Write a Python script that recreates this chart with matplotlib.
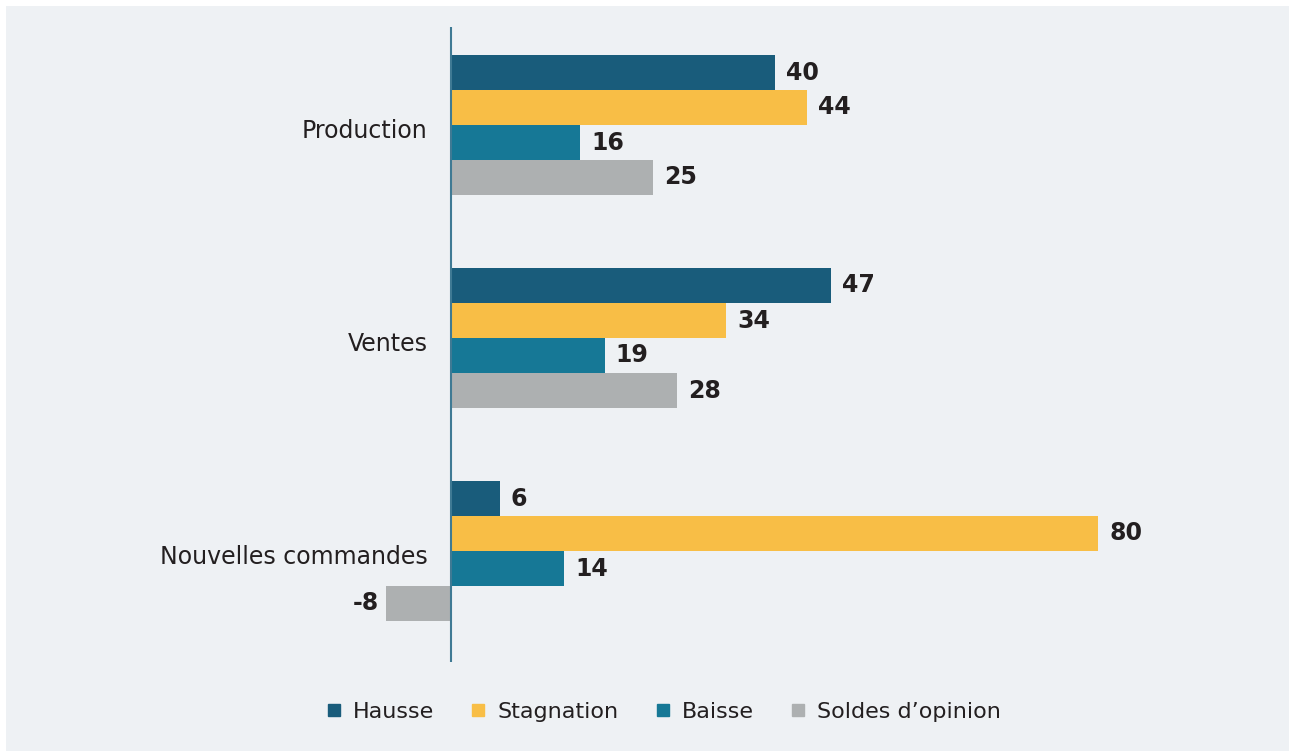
import numpy as np
import matplotlib
matplotlib.use("Agg")
import matplotlib.pyplot as plt
from matplotlib.patches import Rectangle
from matplotlib.lines import Line2D

categories = ["Production", "Ventes", "Nouvelles commandes"]
series = ["Hausse", "Stagnation", "Baisse", "Soldes d\u2019opinion"]
hausse = [40, 47, 6]
stagnation = [44, 34, 80]
baisse = [16, 19, 14]
soldes = [25, 28, -8]

colors = ["#195C7B", "#F8BE46", "#167896", "#ADB0B1"]
bg = "#EEF1F4"

plt.rcParams["font.family"] = "DejaVu Sans"

fig = plt.figure(figsize=(12.9, 7.54), dpi=100, facecolor="white")
# panneau de fond
fig.patches.append(Rectangle((6 / 1290, 3 / 754), 1283 / 1290, 745 / 754,
                             transform=fig.transFigure, facecolor=bg,
                             edgecolor="none", zorder=-10))

# axe: x=0 a 451 px, 80 a 1098 px
px_per_unit = (1098 - 451) / 80
ax_left, ax_right = 150, 1200
ax = fig.add_axes([ax_left / 1290, 1 - 662 / 754, (ax_right - ax_left) / 1290, 635 / 754])
ax.set_facecolor("none")
ax.set_zorder(5)
ax.set_xlim((ax_left - 451) / px_per_unit, (ax_right - 451) / px_per_unit)

unit = 213.0  # px par groupe
h = 35 / unit
top = (125 - 27) / unit
ax.set_ylim(635 / unit - top, -top)

y = np.arange(len(categories))
data = [hausse, stagnation, baisse, soldes]
for i, (vals, col, name) in enumerate(zip(data, colors, series)):
    pos = y + (i - 1.5) * h
    bars = ax.barh(pos, vals, height=h, color=col, label=name, zorder=2)
    for b, v in zip(bars, vals):
        if v >= 0:
            ax.annotate(str(v), (v, b.get_y() + h / 2), xytext=(8, 0),
                        textcoords="offset points", ha="left", va="center",
                        fontsize=17, fontweight="bold", color="#231F20")
        else:
            ax.annotate(str(v), (v, b.get_y() + h / 2), xytext=(-5, 0),
                        textcoords="offset points", ha="right", va="center",
                        fontsize=17, fontweight="bold", color="#231F20")

# etiquettes des categories, a gauche de l'axe
for yc, cat in zip(y, categories):
    ax.annotate(cat, (0, yc + 0.03), xytext=(-17, 0), textcoords="offset points",
                ha="right", va="center", fontsize=17, color="#231F20")

ax.axvline(0, color="#3F7A94", lw=1.5, zorder=3)
for s in ax.spines.values():
    s.set_visible(False)
ax.set_xticks([])
ax.set_yticks([])

handles = [Line2D([0], [0], marker="s", linestyle="none", markersize=8,
                  markerfacecolor=c, markeredgecolor=c) for c in colors]
fig.legend(handles, series, loc="center", bbox_to_anchor=(663 / 1290, 1 - 712 / 754),
           ncol=4, frameon=False, fontsize=16, handlelength=0.8,
           handletextpad=0.45, columnspacing=1.6, labelcolor="#231F20")

fig.savefig("out.png", dpi=100, facecolor="white")
